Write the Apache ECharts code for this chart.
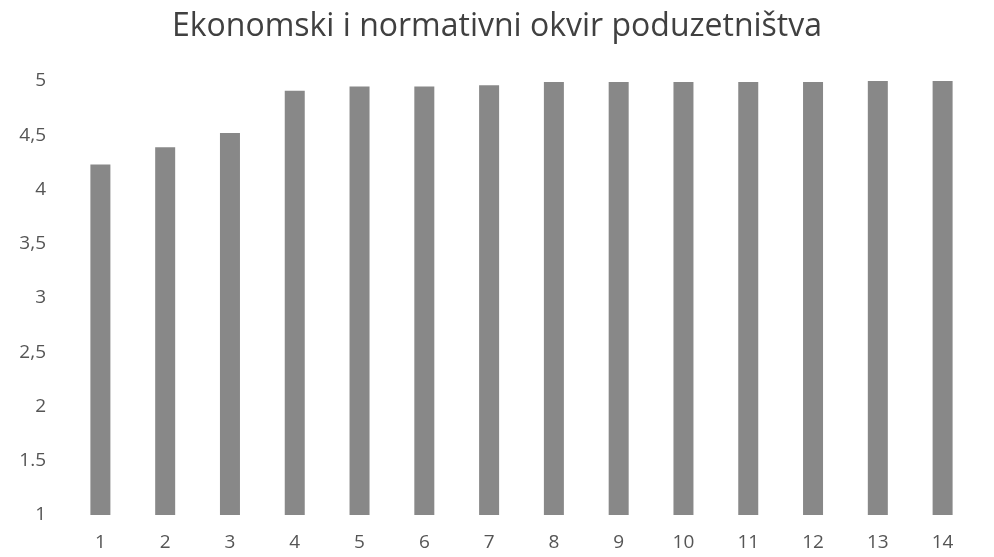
<!DOCTYPE html>
<html>
<head>
<meta charset="utf-8">
<script src="https://cdn.jsdelivr.net/npm/echarts@6/dist/echarts.min.js"></script>
<style>
  html, body { margin: 0; padding: 0; background: #fff; }
  #chart { width: 994px; height: 557px; }
</style>
</head>
<body>
<div id="chart"></div>
<script>
const categories = ['1', '2', '3', '4', '5', '6', '7', '8', '9', '10', '11', '12', '13', '14'];
const values = [4.23, 4.39, 4.52, 4.91, 4.95, 4.95, 4.96, 4.99, 4.99, 4.99, 4.99, 4.99, 5, 5];
const yTickLabels = ['1', '1.5', '2', '2,5', '3', '3,5', '4', '4,5', '5'];

const chart = echarts.init(document.getElementById('chart'));

const option = {
  animation: false,
  title: {
    text: 'Ekonomski i normativni okvir poduzetništva',
    left: 'center',
    top: 6,
    textStyle: {
      fontFamily: 'Open Sans',
      fontSize: 32,
      fontWeight: 'normal',
      color: '#404040'
    }
  },
  grid: {
    left: 68,
    right: 19,
    top: 81,
    bottom: 42
  },
  xAxis: {
    type: 'category',
    data: categories,
    axisLine: { show: false },
    axisTick: { show: false },
    axisLabel: {
      fontFamily: 'Open Sans',
      fontSize: 19,
      color: '#555',
      margin: 18
    }
  },
  yAxis: {
    type: 'value',
    min: 1,
    max: 5,
    interval: 0.5,
    splitLine: { show: false },
    axisLine: { show: false },
    axisTick: { show: false },
    axisLabel: {
      fontFamily: 'Open Sans',
      fontSize: 19,
      color: '#555',
      margin: 22,
      formatter: function (v) {
        return yTickLabels[Math.round((v - 1) / 0.5)];
      }
    }
  },
  series: [{
    type: 'bar',
    data: values,
    barWidth: 20,
    itemStyle: {
      color: '#888888'
    }
  }]
};

chart.setOption(option);
</script>
</body>
</html>
